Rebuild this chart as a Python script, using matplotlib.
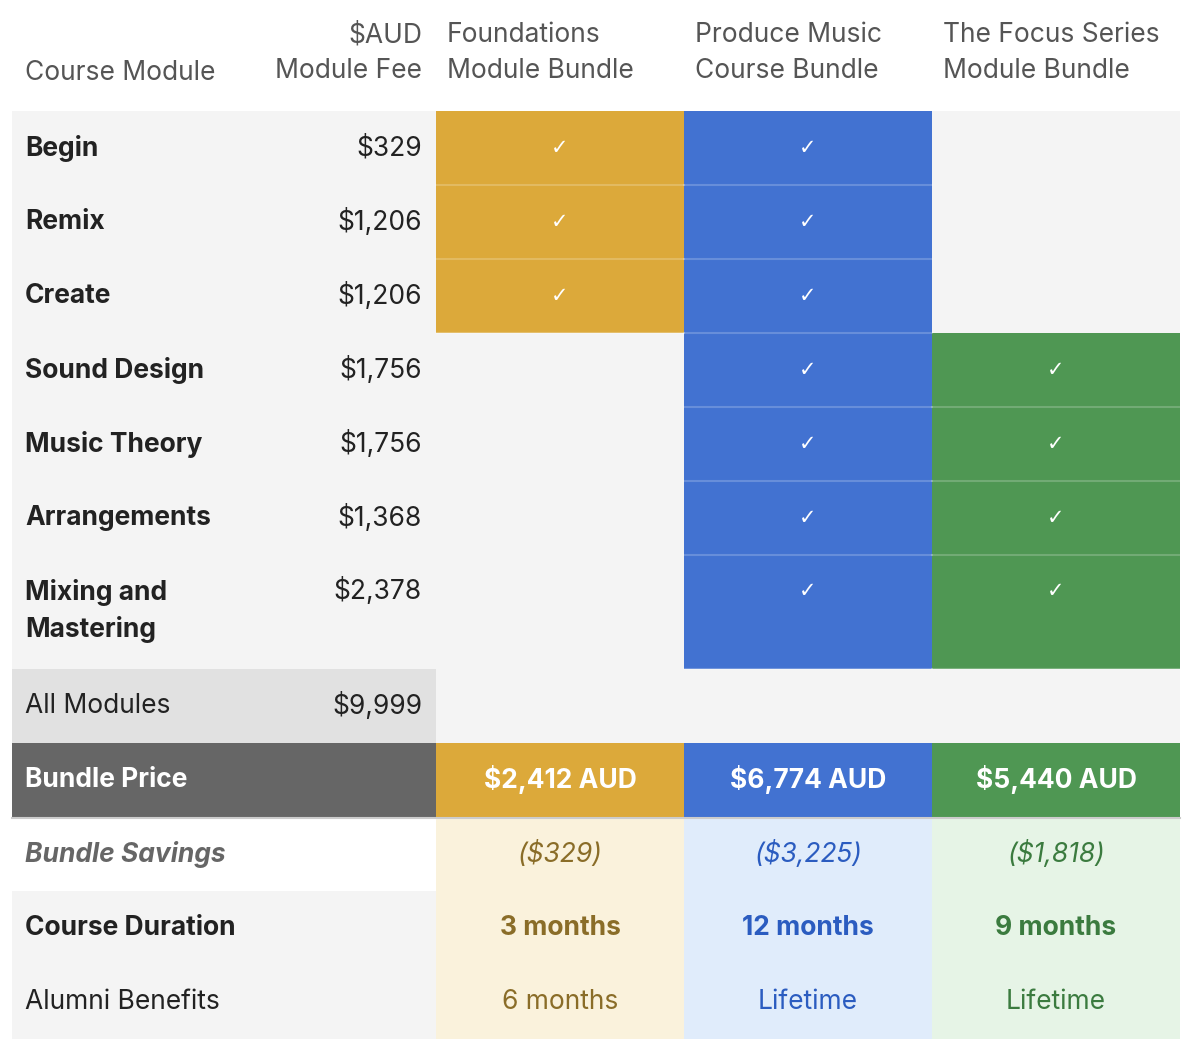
import matplotlib
matplotlib.use("Agg")
import matplotlib.pyplot as plt
from matplotlib.patches import Rectangle

modules = ["Begin", "Remix", "Create", "Sound Design", "Music Theory", "Arrangements", "Mixing and\nMastering"]
fees = ["$329", "$1,206", "$1,206", "$1,756", "$1,756", "$1,368", "$2,378"]
bundles = ["Foundations\nModule Bundle", "Produce Music\nCourse Bundle", "The Focus Series\nModule Bundle"]
included = [[1,1,1,0,0,0,0],[1,1,1,1,1,1,1],[0,0,0,1,1,1,1]]
prices = ["$2,412 AUD", "$6,774 AUD", "$5,440 AUD"]
savings = ["($329)", "($3,225)", "($1,818)"]
durations = ["3 months", "12 months", "9 months"]
alumni = ["6 months", "Lifetime", "Lifetime"]
total_fee = "$9,999"

strong = ["#dca93a", "#4272d1", "#4f9753"]
pale = ["#faf2dc", "#e0ecfb", "#e6f4e6"]
dark = ["#8a6d28", "#2b5cc0", "#3b7b3f"]

fig = plt.figure(figsize=(11.96, 10.5), dpi=100)
ax = fig.add_axes([0, 0, 1, 1])
ax.set_xlim(0, 1196); ax.set_ylim(1050, 0); ax.axis("off")
F = "Inter"; FS = 19

colx = [12, 265, 436, 684, 932, 1180]
rows = [111,185,259,333,407,481,555,669,743,817,891,965,1039]

def rect(x0, y0, x1, y1, c):
    ax.add_patch(Rectangle((x0, y0), x1-x0, y1-y0, color=c, lw=0))

rect(12, 111, 1180, 1039, "#f4f4f4")
# header
ax.text(25, 73, "Course Module", fontsize=FS, family=F, color="#555", va="center")
ax.text(422, 53, "$AUD\nModule Fee", fontsize=FS, family=F, color="#555", va="center", ha="right", linespacing=1.45)
for i, b in enumerate(bundles):
    ax.text(colx[2+i]+11, 53, b, fontsize=FS, family=F, color="#555", va="center", linespacing=1.45)

for r, (m, f) in enumerate(zip(modules, fees)):
    y0, y1 = rows[r], rows[r+1]
    if "\n" in m:
        ax.text(25, 611, m, fontsize=FS, family=F, weight="bold", color="#222", va="center", linespacing=1.45)
        yc = 591
    else:
        yc = (y0+y1)/2
        ax.text(25, yc, m, fontsize=FS, family=F, weight="bold", color="#222", va="center")
    ax.text(422, yc, f, fontsize=FS, family=F, color="#222", va="center", ha="right")
    for i in range(3):
        if included[i][r]:
            rect(colx[2+i], y0, colx[3+i], y1, strong[i])
            ax.text((colx[2+i]+colx[3+i])/2, yc, "✓", fontsize=15, family="DejaVu Sans", color="white", weight="bold", ha="center", va="center")
            if r+1 < len(modules) and included[i][r+1]:
                ax.plot([colx[2+i], colx[3+i]], [y1, y1], color="white", alpha=0.2, lw=1.5)
# bottom edges
for i in range(3):
    last = max(j for j in range(7) if included[i][j])
    ax.plot([colx[2+i], colx[3+i]], [rows[last+1], rows[last+1]], color="white", alpha=0.25, lw=1.5)

# All modules
rect(12, 669, 436, 743, "#e1e1e1")
ax.text(25, 706, "All Modules", fontsize=FS, family=F, color="#222", va="center")
ax.text(422, 706, total_fee, fontsize=FS, family=F, color="#222", va="center", ha="right")
# Bundle price
rect(12, 743, 436, 817, "#666666")
ax.text(25, 780, "Bundle Price", fontsize=FS, family=F, weight="bold", color="white", va="center")
for i in range(3):
    rect(colx[2+i], 743, colx[3+i], 817, strong[i])
    ax.text((colx[2+i]+colx[3+i])/2, 780, prices[i], fontsize=FS, family=F, weight="bold", color="white", ha="center", va="center")
    rect(colx[2+i], 817, colx[3+i], 1039, pale[i])
    cx = (colx[2+i]+colx[3+i])/2
    ax.text(cx, 854, savings[i], fontsize=FS, family=F, style="italic", color=dark[i], ha="center", va="center")
    ax.text(cx, 928, durations[i], fontsize=FS, family=F, weight="bold", color=dark[i], ha="center", va="center")
    ax.text(cx, 1002, alumni[i], fontsize=FS, family=F, color=dark[i], ha="center", va="center")
rect(12, 817, 436, 891, "white")
ax.plot([12, 1180], [818, 818], color="#cccccc", lw=1.5)
ax.text(25, 854, "Bundle Savings", fontsize=FS, family=F, weight="bold", style="italic", color="#666", va="center")
ax.text(25, 928, "Course Duration", fontsize=FS, family=F, weight="bold", color="#222", va="center")
ax.text(25, 1002, "Alumni Benefits", fontsize=FS, family=F, color="#222", va="center")

fig.savefig("out.png", dpi=100)
